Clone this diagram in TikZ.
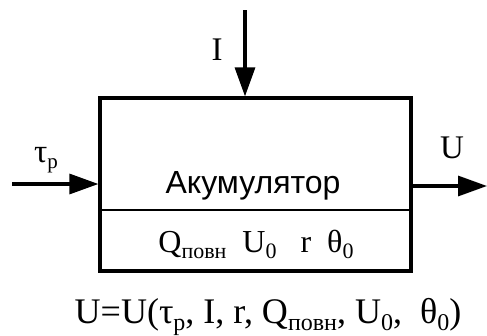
\documentclass[tikz,border=0pt]{standalone}
\usepackage{fontspec}
\setmainfont{Liberation Serif}
\newfontfamily\arialfont{Liberation Sans}
\usetikzlibrary{arrows.meta,positioning,calc}
\newcommand{\lowsub}[2][22]{\raisebox{-0.2em}{\fontsize{#1}{#1}\selectfont #2}}

\begin{document}
\begin{tikzpicture}[
  x=1pt, y=-1pt,
  font=\fontsize{33}{36}\selectfont,
  block/.style={draw, line width=3.2pt, rectangle, minimum width=311pt, minimum height=173pt, inner sep=0pt},
  sig/.style={line width=3.2pt, -{Triangle[length=29pt,width=20pt]}},
  lbl/.style={inner sep=0pt, anchor=base}
]
\useasboundingbox (0,0) rectangle (487,335);
\node[block] (acc) at (255.5,184.5) {};
\coordinate (div) at (0,210);
\draw[line width=2pt] (acc.west |- div) -- (acc.east |- div);
\node[font=\arialfont\fontsize{32}{34}\selectfont, lbl] (name) at (253,193) {Акумулятор};
\node[font=\fontsize{32}{34}\selectfont, lbl] (par) at (256,252)
  {Q\lowsub{повн}\ \ U\lowsub{0}\ \ \ r\ \ θ\lowsub{0}};
% inputs and output
\coordinate (top) at (245,10);
\coordinate (in) at (12,184);
\coordinate (out) at (487,186);
\draw[sig] (top) -- (acc.north -| top);
\draw[sig] (in) -- (acc.west |- in);
\draw[sig] (acc.east |- out) -- (out);
\node[lbl] (iI) at (217,60) {I};
\node[lbl] (itau) at (46,162) {τ\lowsub[21]{p}};
\node[lbl] (oU) at (452,158) {U};
% formula
\node[lbl, font=\fontsize{36}{38}\selectfont] (eq) at (268,323)
  {U=U(τ\lowsub[24]{p}, I, r, Q\lowsub[24]{повн}, U\lowsub[24]{0}, \ θ\lowsub[24]{0})};
\end{tikzpicture}
\end{document}
